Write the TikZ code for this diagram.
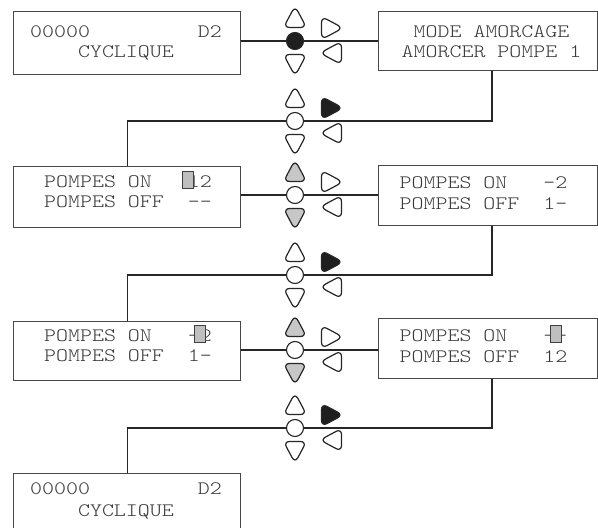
\documentclass[tikz,border=0pt]{standalone}
\usepackage{fontspec}
\setmonofont{lmmonolt10-regular.otf}[FakeStretch=1.2]
\begin{document}
\begin{tikzpicture}[x=1pt,y=-1pt,
  lcd/.style={draw=black!72, line width=1.3pt, fill=white, rectangle, inner sep=0pt, anchor=north west, minimum width=227pt},
  lcdr/.style={lcd, minimum width=219pt},
  lcdtext/.style={font=\ttfamily\fontsize{19}{19}\selectfont, text=black!78, inner sep=0pt, anchor=base west},
  lcdmid/.style={lcdtext, anchor=base},
  conn/.style={draw=black!85, line width=1.2pt},
  cursor/.style={draw=black!75, fill=black!25, line width=0.9pt, minimum width=11pt, minimum height=17pt, inner sep=0pt},
  btncirc/.style={circle, draw=black!85, fill=white, line width=1.1pt, minimum size=17pt, inner sep=0pt},
  btn/.style={draw=black!85, line width=1.2pt, rounded corners=6pt},
  uptri/.pic={\path[btn,fill=#1] (0,-11.5) -- (11.5,10) -- (-11.5,10) -- cycle;},
  downtri/.pic={\path[btn,fill=#1] (0,11.5) -- (11.5,-10) -- (-11.5,-10) -- cycle;},
  righttri/.pic={\path[btn,fill=#1] (11.5,0) -- (-10,-11.5) -- (-10,11.5) -- cycle;},
  lefttri/.pic={\path[btn,fill=#1] (-11.5,0) -- (10,-11.5) -- (10,11.5) -- cycle;},
]
\useasboundingbox (0,0) rectangle (598,528);
\clip (0,0) rectangle (598,528);
\fill[white] (0,0) rectangle (598,528);

% LCD boxes
\node[lcd, minimum height=63pt] (b1) at (13,11) {};
\node[lcdr, minimum height=59pt] (b2) at (378,11) {};
\node[lcd, minimum height=61pt] (b3) at (13,166) {};
\node[lcdr, minimum height=60pt] (b4) at (378,165) {};
\node[lcd, minimum height=59pt] (b5) at (13,321) {};
\node[lcdr, minimum height=60pt] (b6) at (378,318) {};
\node[lcd, minimum height=63pt] (b7) at (13,473) {};

% texts
\node[lcdtext] (t1a) at (30,37) {00000~~~~~~~~~D2};
\node[lcdtext] (t1b) at (30,57) {~~~~CYCLIQUE};
\node[lcdmid] (t2a) at (491.5,37) {MODE~AMORCAGE};
\node[lcdmid] (t2b) at (491.5,57) {AMORCER~POMPE~1};
\node[lcdtext] (t3a) at (44,187) {POMPES~ON~~~12};
\node[lcdtext] (t3b) at (44,207) {POMPES~OFF~~-{}-};
\node[lcdtext] (t4a) at (399.5,188) {POMPES~ON~~~-2};
\node[lcdtext] (t4b) at (399.5,209) {POMPES~OFF~~1-};
\node[lcdtext] (t5a) at (44,341) {POMPES~ON~~~-2};
\node[lcdtext] (t5b) at (44,361) {POMPES~OFF~~1-};
\node[lcdtext] (t6a) at (399.5,341.5) {POMPES~ON~~~-{}-};
\node[lcdtext] (t6b) at (399.5,362) {POMPES~OFF~~12};
\node[lcdtext] (t7a) at (30,494) {00000~~~~~~~~~D2};
\node[lcdtext] (t7b) at (30,516) {~~~~CYCLIQUE};

% cursors
\node[cursor] (k3) at (188,179.5) {};
\node[cursor] (k5) at (200,333.5) {};
\node[cursor] (k6) at (555.5,334) {};

% centre buttons
\node[btncirc, fill=black!88] (c1) at (295,41) {};
\node[btncirc] (c2) at (295,121) {};
\node[btncirc] (c3) at (295,195) {};
\node[btncirc] (c4) at (295,275) {};
\node[btncirc] (c5) at (295,350) {};
\node[btncirc] (c6) at (295,428) {};

% arrow buttons
% cluster 1
\pic (u1) at (295,17.5) {uptri=white};
\pic (d1) at (295,64.5) {downtri=white};
\pic (r1) at (331.5,28) {righttri=white};
\pic (l1) at (331.5,53) {lefttri=white};
% cluster 2
\pic (u2) at (295,97.5) {uptri=white};
\pic (d2) at (295,144.5) {downtri=white};
\pic (r2) at (331.5,108) {righttri=black!88};
\pic (l2) at (331.5,133) {lefttri=white};
% cluster 3
\pic (u3) at (295,171.5) {uptri=black!22};
\pic (d3) at (295,218.5) {downtri=black!22};
\pic (r3) at (331.5,182) {righttri=white};
\pic (l3) at (331.5,207) {lefttri=white};
% cluster 4
\pic (u4) at (295,251.5) {uptri=white};
\pic (d4) at (295,298.5) {downtri=white};
\pic (r4) at (331.5,262) {righttri=black!88};
\pic (l4) at (331.5,287) {lefttri=white};
% cluster 5
\pic (u5) at (295,326.5) {uptri=black!22};
\pic (d5) at (295,373.5) {downtri=black!22};
\pic (r5) at (331.5,337) {righttri=white};
\pic (l5) at (331.5,362) {lefttri=white};
% cluster 6
\pic (u6) at (295,404.5) {uptri=white};
\pic (d6) at (295,451.5) {downtri=white};
\pic (r6) at (331.5,415) {righttri=black!88};
\pic (l6) at (331.5,440) {lefttri=white};

% connectors
\coordinate (j1) at (492,121);
\coordinate (j2) at (492,275);
\coordinate (j3) at (492,428);
\draw[conn] (b1.east |- c1) -- (c1) -- (b2.west |- c1);
\draw[conn] (b3.east |- c3) -- (c3) -- (b4.west |- c3);
\draw[conn] (b5.east |- c5) -- (c5) -- (b6.west |- c5);
\draw[conn] (b2.south -| j1) -- (j1) -- (c2) -- (c2 -| b3.north) -- (b3.north);
\draw[conn] (b4.south -| j2) -- (j2) -- (c4) -- (c4 -| b5.north) -- (b5.north);
\draw[conn] (b6.south -| j3) -- (j3) -- (c6) -- (c6 -| b7.north) -- (b7.north);
\end{tikzpicture}
\end{document}
